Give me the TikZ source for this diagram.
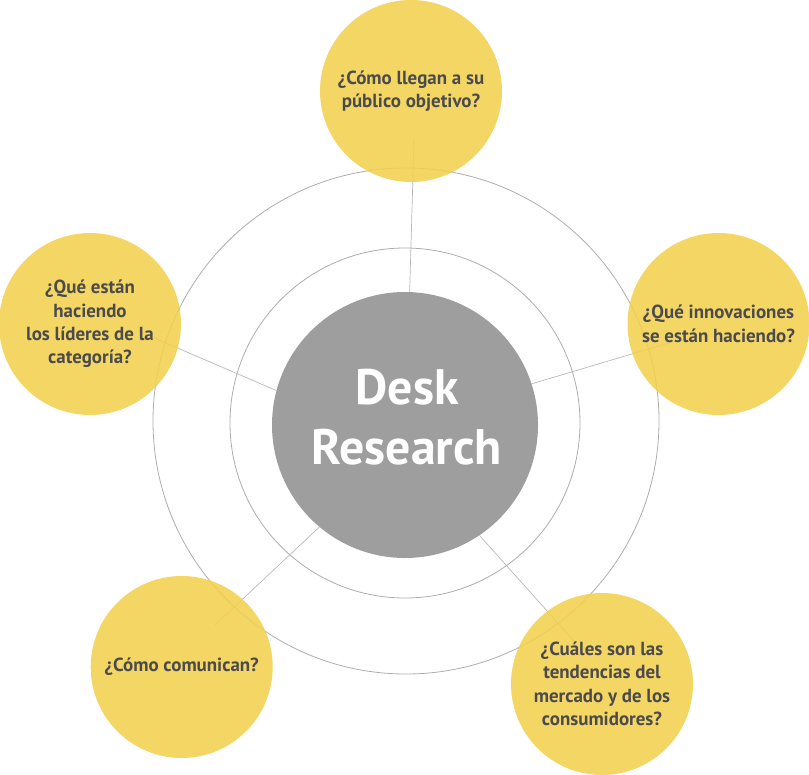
\documentclass[tikz,border=0pt]{standalone}
\usepackage{fontspec}
\setmainfont{PT Sans}
\definecolor{ylw}{HTML}{F2D04E}
\definecolor{gry}{HTML}{9E9E9E}
\definecolor{ringc}{HTML}{ADADAD}
\definecolor{txt}{HTML}{4B4B4D}
\begin{document}
\begin{tikzpicture}[x=1bp,y=-1bp,
 bubble/.style={circle, fill=ylw, fill opacity=0.88, text opacity=1, minimum size=182bp, inner sep=0pt, align=center, text=txt, font=\bfseries\fontsize{19}{23.5}\selectfont},
 ringline/.style={draw=ringc, line width=0.8bp},
 link/.style={draw=ringc!85, line width=0.7bp}]
\useasboundingbox (0,0) rectangle (809,775);
\draw[ringline] (406,421) circle (253bp);
\draw[ringline] (405,423) circle (175bp);
\node[circle, fill=gry, minimum size=266bp, inner sep=0pt] (desk) at (405,425) {};
\node[text=white, font=\bfseries\fontsize{50}{60}\selectfont, align=center] (desktxt) at (407,417) {Desk\\Research};
\coordinate (pTop) at (414,140);
\coordinate (pRight) at (672,342);
\coordinate (pLeft) at (138,331);
\coordinate (pBL) at (215,625);
\coordinate (pBR) at (574,641);
\draw[link] (pTop) -- (desk.88.1);
\draw[link] (pRight) -- (desk.18.8);
\draw[link] (pLeft) -- (desk.165.5);
\draw[link] (pBL) -- (desk.230.5);
\draw[link] (pBR) -- (desk.304.9);
\node[bubble] (top) at (411,91) {¿Cómo llegan a su\\público objetivo?};
\node[bubble] (right) at (718.5,324) {¿Qué innovaciones\\se están haciendo?};
\node[bubble] (left) at (90,324) {¿Qué están\\haciendo\\los líderes de la\\categoría?};
\node[bubble] (bl) at (181.7,667) {¿Cómo comunican?};
\node[bubble] (br) at (602,684) {¿Cuáles son las\\tendencias del\\mercado y de los\\consumidores?};
\end{tikzpicture}
\end{document}
